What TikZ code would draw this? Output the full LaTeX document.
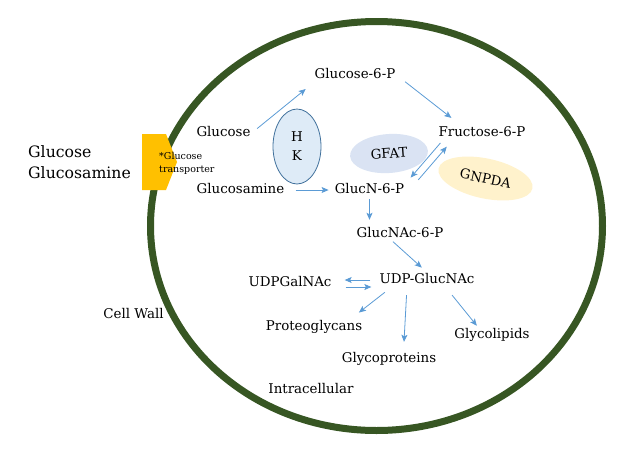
\documentclass[tikz,border=0pt]{standalone}
\usepackage{fontspec}
\setmainfont{DejaVu Serif}
\usetikzlibrary{arrows.meta, shapes.geometric}
\definecolor{wallgreen}{HTML}{375623}
\definecolor{flowblue}{HTML}{5B9BD5}
\definecolor{transyellow}{HTML}{FFC000}
\definecolor{hkfill}{HTML}{DEEBF7}
\definecolor{hkline}{HTML}{41719C}
\definecolor{gfatfill}{HTML}{DAE3F3}
\definecolor{gnpdafill}{HTML}{FFF2CC}

\begin{document}
\begin{tikzpicture}[x=1pt, y=-1pt,
	lbl/.style={inner sep=1pt, text height=10pt, text depth=3pt, font=\fontsize{13.4}{16}\selectfont},
	enzyme/.style={ellipse, inner sep=0pt, font=\fontsize{13.4}{19}\selectfont},
	flow/.style={flowblue, line width=0.8pt, -{Stealth[length=7pt, width=6pt, inset=1.5pt]}}]
\useasboundingbox (0, 0) rectangle (627, 456);
\draw[wallgreen, line width=7pt] (376.5, 226) ellipse [x radius=226pt, y radius=204.5pt];
\fill[transyellow] (142, 134) -- (166, 134) -- (177, 162) -- (166, 190) -- (142, 190) -- cycle;
\node[anchor=west, align=left, inner sep=0pt, font=\fontsize{9.5}{13}\selectfont] (trans) at (159, 163) {*Glucose\\transporter};
\node[anchor=west, align=left, inner sep=0pt, font=\fontsize{15.7}{21}\selectfont] (outside) at (28, 162.5) {Glucose\\Glucosamine};
\node[enzyme, draw=hkline, line width=0.8pt, fill=hkfill, minimum width=48pt, minimum height=75pt, align=center] (hk) at (297, 146.5) {H\\K};
\node[enzyme, fill=gfatfill, minimum width=78pt, minimum height=39pt, rotate=4] (gfat) at (389, 153.5) {GFAT};
\node[enzyme, fill=gnpdafill, minimum width=96pt, minimum height=40pt, rotate=-12] (gnpda) at (485.5, 178.5) {GNPDA};
\node[lbl] (glc) at (223.5, 133) {Glucose};
\node[lbl] (glcn) at (240.5, 190) {Glucosamine};
\node[lbl] (g6p) at (355, 75) {Glucose-6-P};
\node[lbl] (f6p) at (482, 133) {Fructose-6-P};
\node[lbl] (g6n) at (369.5, 190) {GlucN-6-P};
\node[lbl] (gnac) at (400, 234) {GlucNAc-6-P};
\node[lbl] (udpg) at (427, 280) {UDP-GlucNAc};
\node[lbl] (udpgal) at (290, 283) {UDPGalNAc};
\node[lbl] (prot) at (314, 327) {Proteoglycans};
\node[lbl] (glyp) at (389, 359) {Glycoproteins};
\node[lbl] (glyl) at (492, 335) {Glycolipids};
\node[lbl] (wall) at (133.5, 315) {Cell Wall};
\node[lbl] (intra) at (311, 390) {Intracellular};
\draw[flow, shorten <=7pt, shorten >=10pt] (glc.east) -- (g6p.south west);
\draw[flow, shorten <=11pt, shorten >=12pt] (g6p.east) -- (f6p.160);
\draw[flow, shorten <=10pt, shorten >=5pt] (glcn.east) -- (g6n.west);
\draw[flow, shorten <=3pt, shorten >=8pt] (f6p.191) -- (g6n.10);
\draw[flow, shorten <=9pt, shorten >=4pt] ([xshift=7pt, yshift=-3pt]g6n.10) -- ([xshift=7pt, yshift=-3pt]f6p.191);
\draw[flow, shorten <=1.5pt, shorten >=6.5pt] (g6n.south) -- (g6n.south |- gnac.north);
\draw[flow, shorten >=7pt] ([xshift=-7pt]gnac.south) -- (udpg.north);
\draw[flow, shorten <=8pt, shorten >=12pt] (udpg.west) -- (udpg.west -| udpgal.east);
\draw[flow, shorten <=13pt, shorten >=7pt] ([yshift=-4pt]udpgal.east) -- ([yshift=-4pt]udpgal.east -| udpg.west);
\draw[flow, shorten <=7.5pt, shorten >=11pt] (udpg.192) -- (prot.12);
\draw[flow, shorten <=7.5pt, shorten >=9.5pt] (udpg.201) -- (glyp.28);
\draw[flow, shorten <=9.5pt, shorten >=2pt] (udpg.338) -- (glyl.151);
\end{tikzpicture}
\end{document}
